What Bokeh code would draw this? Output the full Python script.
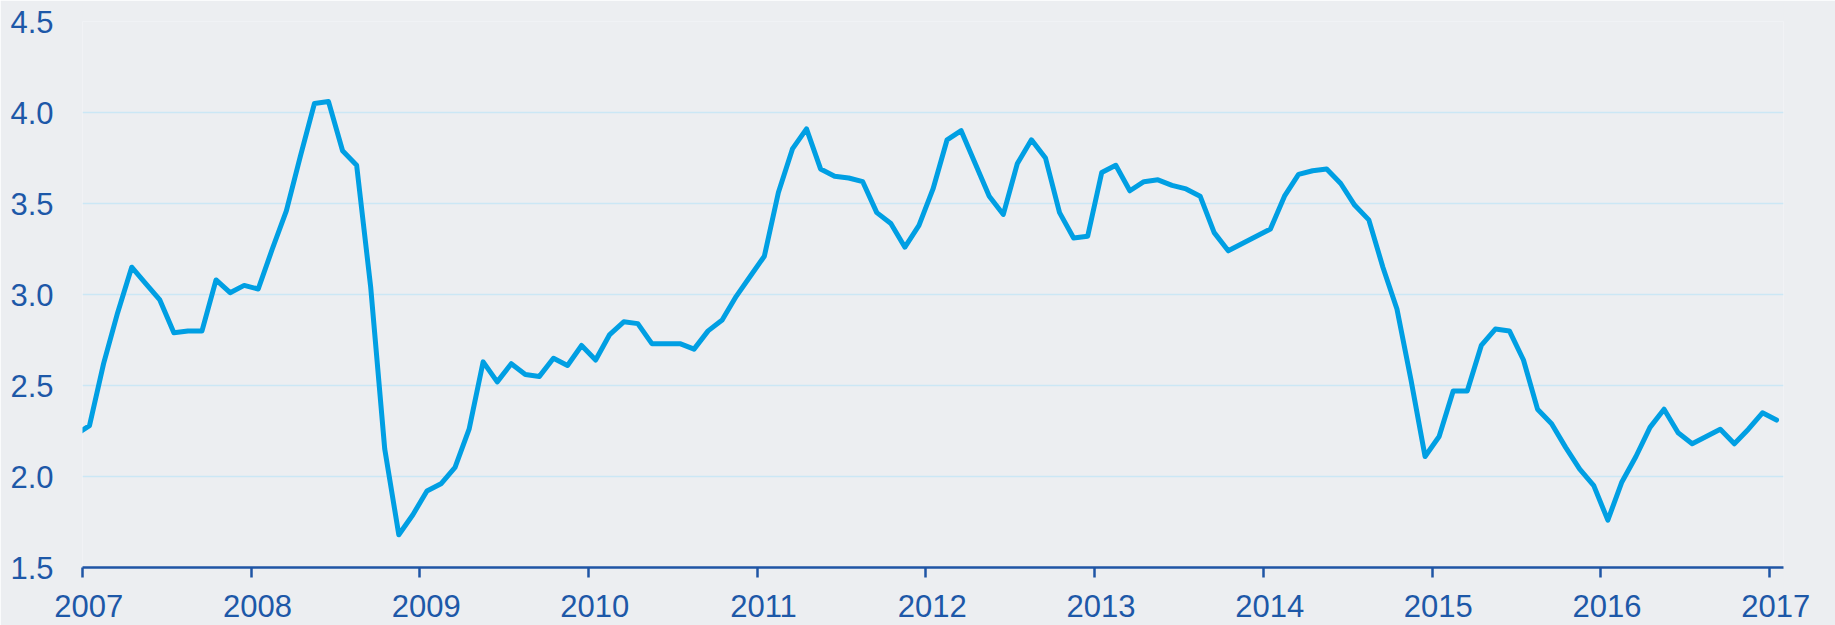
from bokeh.plotting import figure
from bokeh.models import FixedTicker, Range1d, LinearAxis, CustomJSTickFormatter
from bokeh.embed import file_html
from bokeh.resources import INLINE

# Monthly values, Dec 2006 .. Jan 2017
years = list(range(2007, 2018))
values = [
    2.23,  # Dec 2006
    # 2007
    2.28, 2.62, 2.90, 3.15, 3.06, 2.97, 2.79, 2.80, 2.80, 3.08, 3.01, 3.05,
    # 2008
    3.03, 3.25, 3.46, 3.76, 4.05, 4.06, 3.79, 3.71, 3.04, 2.15, 1.68, 1.79,
    # 2009
    1.92, 1.96, 2.05, 2.26, 2.63, 2.52, 2.62, 2.56, 2.55, 2.65, 2.61, 2.72,
    # 2010
    2.64, 2.78, 2.85, 2.84, 2.73, 2.73, 2.73, 2.70, 2.80, 2.86, 2.99, 3.10,
    # 2011
    3.21, 3.56, 3.80, 3.91, 3.69, 3.65, 3.64, 3.62, 3.45, 3.39, 3.26, 3.38,
    # 2012
    3.58, 3.85, 3.90, 3.72, 3.54, 3.44, 3.72, 3.85, 3.75, 3.45, 3.31, 3.32,
    # 2013
    3.67, 3.71, 3.57, 3.62, 3.63, 3.60, 3.58, 3.54, 3.34, 3.24, 3.28, 3.32,
    # 2014
    3.36, 3.54, 3.66, 3.68, 3.69, 3.61, 3.49, 3.41, 3.15, 2.92, 2.53, 2.11,
    # 2015
    2.22, 2.47, 2.47, 2.72, 2.81, 2.80, 2.64, 2.37, 2.29, 2.16, 2.04, 1.95,
    # 2016
    1.76, 1.97, 2.11, 2.27, 2.37, 2.24, 2.18, 2.22, 2.26, 2.18, 2.26, 2.35,
    # 2017
    2.31,
]
y_ticks = [1.5, 2.0, 2.5, 3.0, 3.5, 4.0, 4.5]

# mid-month positions starting at Dec 2006
x = [2006.0 + (11 + i + 0.5) / 12.0 for i in range(len(values))]

TEXT = "#1D58A8"
AXIS = "#1F55A5"
BG = "#ECEEF1"
X0, X1 = 2007.0, 2017.083
LAB_SHIFT = 0.037  # year labels sit slightly right of their ticks

p = figure(width=1835, height=625, output_backend="svg", toolbar_location=None,
           x_range=Range1d(X0, X1), y_range=Range1d(1.5, 4.5),
           min_border_left=82, min_border_right=52, min_border_top=21,
           min_border_bottom=58, x_axis_location=None)
p.extra_x_ranges = {"lab": Range1d(X0 - LAB_SHIFT, X1 - LAB_SHIFT)}
p.background_fill_color = BG
p.border_fill_color = BG
p.outline_line_color = None

p.line(x, values, line_color="#009FE3", line_width=5, line_join="round", line_cap="round")

# axis with line and ticks only
ax_line = LinearAxis(ticker=FixedTicker(ticks=years),
                     formatter=CustomJSTickFormatter(code="return '';"))
ax_line.axis_line_color = AXIS
ax_line.axis_line_width = 2.5
ax_line.major_tick_line_color = AXIS
ax_line.major_tick_line_width = 2.5
ax_line.major_tick_in = 0
ax_line.major_tick_out = 10
ax_line.minor_tick_line_color = None
ax_line.major_label_standoff = 0
ax_line.major_label_text_font_size = "0px"
p.add_layout(ax_line, "below")

# axis carrying the year labels
ax_lab = LinearAxis(x_range_name="lab", ticker=FixedTicker(ticks=years))
ax_lab.axis_line_color = None
ax_lab.major_tick_line_color = None
ax_lab.minor_tick_line_color = None
ax_lab.major_tick_in = 0
ax_lab.major_tick_out = 0
ax_lab.major_label_standoff = 17
ax_lab.major_label_text_font = "Liberation Sans"
ax_lab.major_label_text_font_size = "31px"
ax_lab.major_label_text_color = TEXT
p.add_layout(ax_lab, "below")

p.yaxis.ticker = FixedTicker(ticks=y_ticks)
p.yaxis.formatter = CustomJSTickFormatter(code="return tick.toFixed(1);")
p.yaxis.axis_line_color = None
p.yaxis.major_tick_line_color = None
p.yaxis.minor_tick_line_color = None
p.yaxis.major_tick_in = 0
p.yaxis.major_tick_out = 0
p.yaxis.major_label_standoff = 29
p.yaxis.major_label_text_font = "Liberation Sans"
p.yaxis.major_label_text_font_size = "31px"
p.yaxis.major_label_text_color = TEXT

p.xgrid.grid_line_color = None
p.ygrid.grid_line_color = "#CBE7F5"
p.ygrid.grid_line_width = 1.5

open("out.html", "w").write(file_html(p, INLINE))
